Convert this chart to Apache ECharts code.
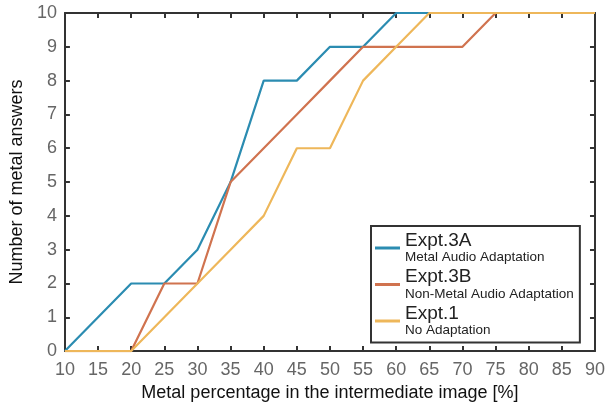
<!DOCTYPE html>
<html><head><meta charset="utf-8">
<script src="https://cdn.jsdelivr.net/npm/echarts@6/dist/echarts.min.js"></script>
<style>html,body{margin:0;padding:0;background:#fff}#c{width:608px;height:407px}</style>
</head><body><div id="c"></div>
<script>
var xValues = [10,15,20,25,30,35,40,45,50,55,60,65,70,75,80,85,90];
var expt3A = [0,1,2,2,3,5,8,8,9,9,10,10,10,10,10,10,10];
var expt3B = [0,0,0,2,2,5,6,7,8,9,9,9,9,10,10,10,10];
var expt1  = [0,0,0,1,2,3,4,6,6,8,9,10,10,10,10,10,10];
var seriesNames = ['Expt.3A','Expt.3B','Expt.1'];
var seriesSubs = ['Metal Audio Adaptation','Non-Metal Audio Adaptation','No Adaptation'];
var colors = ['#2b8cb1','#d0734f','#eeb75a'];
function pairs(ys){ return xValues.map(function(x,i){return [x, ys[i]];}); }
var chart = echarts.init(document.getElementById('c'));
var font = 'Liberation Sans, Arial, sans-serif';
var axisCommon = {
  axisLine:{show:true, onZero:false, lineStyle:{color:'#333', width:2}},
  axisTick:{show:true, inside:true, length:5, lineStyle:{color:'#333', width:2}},
  splitLine:{show:false}
};
chart.setOption({
  animation:false,
  textStyle:{fontFamily:font},
  grid:{left:58, right:11, top:13, bottom:54},
  xAxis:[
    Object.assign({type:'value', min:10, max:90, interval:5, position:'bottom',
      axisLabel:{color:'#666', fontSize:18, margin:10, fontFamily:font},
      name:'Metal percentage in the intermediate image [%]', nameLocation:'middle', nameGap:30,
      nameTextStyle:{color:'#111', fontSize:18, fontFamily:font}}, axisCommon),
    Object.assign({type:'value', min:10, max:90, interval:5, position:'top', axisLabel:{show:false}}, axisCommon)
  ],
  yAxis:[
    Object.assign({type:'value', min:0, max:10, interval:1, position:'left',
      axisLabel:{color:'#666', fontSize:18, margin:8, fontFamily:font},
      name:'Number of metal answers', nameLocation:'middle', nameGap:33,
      nameTextStyle:{color:'#111', fontSize:18, fontFamily:font}}, axisCommon),
    Object.assign({type:'value', min:0, max:10, interval:1, position:'right', axisLabel:{show:false}}, axisCommon)
  ],
  legend:{
    orient:'vertical', left:371, top:226, width:205,
    backgroundColor:'#fff', borderColor:'#333', borderWidth:2, borderRadius:0,
    padding:[5,6,5,4], itemGap:3, itemWidth:25, itemHeight:3, icon:'rect',
    data:seriesNames,
    formatter:function(n){ var i = seriesNames.indexOf(n); return '{a|'+n+'}\n{b|'+seriesSubs[i]+'}'; },
    textStyle:{rich:{
      a:{fontSize:19, color:'#222', fontFamily:font, lineHeight:19},
      b:{fontSize:13.5, color:'#222', fontFamily:font, lineHeight:15}
    }}
  },
  series:[
    {name:seriesNames[0], type:'line', data:pairs(expt3A), color:colors[0], symbol:'none', lineStyle:{width:2.2}, z:3},
    {name:seriesNames[1], type:'line', data:pairs(expt3B), color:colors[1], symbol:'none', lineStyle:{width:2.2}, z:4},
    {name:seriesNames[2], type:'line', data:pairs(expt1), color:colors[2], symbol:'none', lineStyle:{width:2.2}, z:5}
  ]
});
</script></body></html>
